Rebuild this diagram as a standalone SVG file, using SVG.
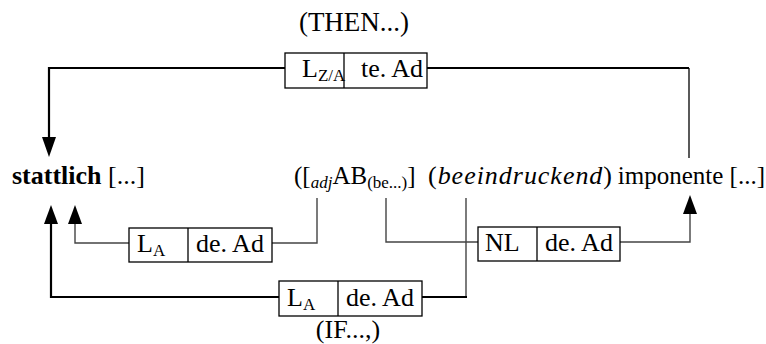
<svg xmlns="http://www.w3.org/2000/svg" width="766" height="344" viewBox="0 0 766 344">
<style>
text{font-family:"Liberation Serif","Times New Roman",serif;font-size:26px;fill:#000}
.sub{font-size:17px}
.box{fill:#fff;stroke:#000;stroke-width:1.3}
.div{stroke:#000;stroke-width:1.3}
.thick{fill:none;stroke:#000;stroke-width:2.2}
.thin{fill:none;stroke:#444;stroke-width:1.4}
.thinb{fill:none;stroke:#000;stroke-width:1.3}
.head{fill:#000}
</style>
<rect width="766" height="344" fill="#fff"/>
<g id="connectors">
  <path class="thick" d="M285,68 H49 V140"/>
  <polygon class="head" points="49,157 42,137 56,137"/>
  <path class="thick" d="M427,68 H689"/>
  <path class="thinb" d="M689,68 V158"/>
  <path class="thin" d="M317,198 V243 H272"/>
  <path class="thin" d="M129,243 H75 V222"/>
  <polygon class="head" points="75,205 68,224 82,224"/>
  <path class="thick" d="M279,297 H51 V222"/>
  <polygon class="head" points="51,205 44,224 58,224"/>
  <path class="thin" d="M466,198 V297"/>
  <path class="thick" d="M422,297 H467"/>
  <path class="thin" d="M386,198 V242 H478"/>
  <path class="thin" d="M620,242 H690 V212"/>
  <polygon class="head" points="690,195 683,214 697,214"/>
</g>
<g id="then-label"><text x="354" y="31" text-anchor="middle" style="font-size:27px">(THEN...)</text></g>
<g id="box-top">
  <rect class="box" x="285" y="53" width="142" height="35"/>
  <line class="div" x1="344" y1="53" x2="344" y2="88"/>
  <text x="302" y="77">L<tspan class="sub" dy="4">Z/A</tspan></text>
  <text x="361" y="77">te. Ad</text>
</g>
<g id="stattlich"><text x="12" y="184"><tspan font-weight="bold">stattlich</tspan> [...]</text></g>
<g id="adjab"><text x="294" y="184" style="font-size:25px">([<tspan class="sub" font-style="italic" dy="4">adj</tspan><tspan dy="-4">AB</tspan><tspan class="sub" dy="4">(be...)</tspan><tspan dy="-4">]</tspan></text></g>
<g id="beeindruckend"><text x="428" y="184" textLength="184">(<tspan font-style="italic">beeindruckend</tspan>)</text></g>
<g id="imponente"><text x="765" y="184" text-anchor="end" style="font-size:25px">imponente [...]</text></g>
<g id="box-mid">
  <rect class="box" x="129" y="228" width="143" height="34"/>
  <line class="div" x1="188" y1="228" x2="188" y2="262"/>
  <text x="137" y="252">L<tspan class="sub" dy="4">A</tspan></text>
  <text x="196" y="252">de. Ad</text>
</g>
<g id="box-nl">
  <rect class="box" x="478" y="227" width="142" height="34"/>
  <line class="div" x1="537" y1="227" x2="537" y2="261"/>
  <text x="485" y="251">NL</text>
  <text x="545" y="251">de. Ad</text>
</g>
<g id="box-bottom">
  <rect class="box" x="279" y="281" width="143" height="35"/>
  <line class="div" x1="338" y1="281" x2="338" y2="316"/>
  <text x="287" y="306">L<tspan class="sub" dy="4">A</tspan></text>
  <text x="346" y="306">de. Ad</text>
</g>
<g id="if-label"><text x="348" y="338" text-anchor="middle">(IF...,)</text></g>
</svg>
